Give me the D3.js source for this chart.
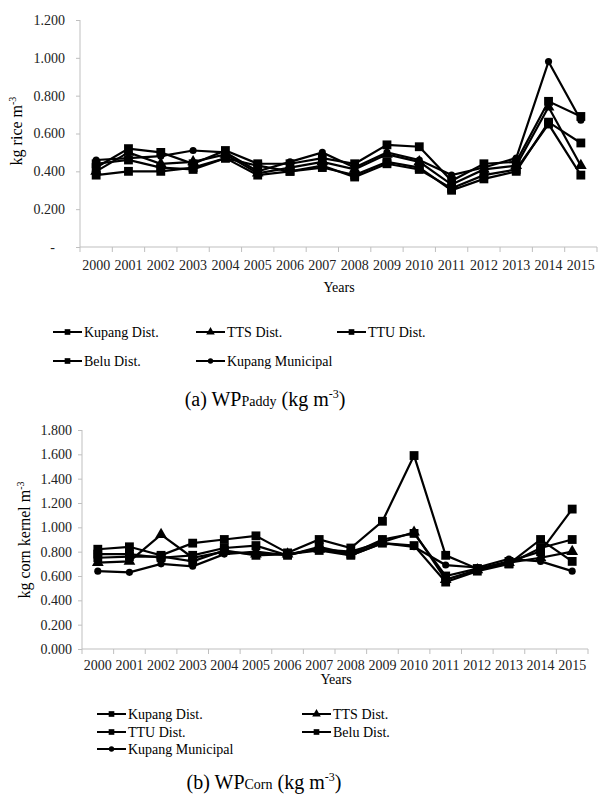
<!DOCTYPE html>
<html>
<head>
<meta charset="utf-8">
<script src="https://cdn.jsdelivr.net/npm/d3@7"></script>
<style>
	body { margin: 0; background: #fff; }
	svg, svg text { font-family: "Liberation Serif", "Times New Roman", Times, "DejaVu Serif", serif; }
	.axis path, .axis line { stroke: #bfbfbf; }
	.axis text { font-size: 14px; fill: #222; }
</style>
</head>
<body>
<div id="chart"></div>
<script>

// categories
let years = ["2000","2001","2002","2003","2004","2005","2006","2007","2008","2009","2010","2011","2012","2013","2014","2015"];
let seriesNames = ["Kupang Dist.", "TTS Dist.", "TTU Dist.", "Belu Dist.", "Kupang Municipal"];
let seriesSymbols = ["square", "triangle", "square", "square", "circle"];

// (a) water productivity paddy, kg rice m-3
let paddyKupangDist = [0.42, 0.52, 0.50, 0.44, 0.51, 0.44, 0.44, 0.47, 0.44, 0.54, 0.53, 0.35, 0.44, 0.45, 0.77, 0.69];
let paddyTTS        = [0.40, 0.50, 0.44, 0.45, 0.49, 0.39, 0.42, 0.45, 0.41, 0.49, 0.45, 0.33, 0.41, 0.43, 0.74, 0.43];
let paddyTTU        = [0.38, 0.40, 0.40, 0.42, 0.47, 0.38, 0.40, 0.42, 0.38, 0.45, 0.42, 0.30, 0.36, 0.40, 0.66, 0.55];
let paddyBelu       = [0.44, 0.46, 0.42, 0.41, 0.47, 0.43, 0.40, 0.43, 0.37, 0.44, 0.41, 0.31, 0.38, 0.41, 0.65, 0.38];
let paddyMunicipal  = [0.46, 0.47, 0.48, 0.51, 0.50, 0.40, 0.45, 0.50, 0.42, 0.50, 0.46, 0.38, 0.42, 0.47, 0.98, 0.67];
let paddyTicks = [0, 0.2, 0.4, 0.6, 0.8, 1.0, 1.2];

// (b) water productivity corn, kg corn kernel m-3
let cornKupangDist = [0.82, 0.84, 0.77, 0.87, 0.90, 0.93, 0.79, 0.90, 0.83, 1.05, 1.59, 0.77, 0.66, 0.72, 0.80, 1.15];
let cornTTS        = [0.71, 0.72, 0.94, 0.75, 0.80, 0.78, 0.78, 0.82, 0.80, 0.88, 0.96, 0.57, 0.65, 0.71, 0.75, 0.80];
let cornTTU        = [0.78, 0.78, 0.75, 0.77, 0.83, 0.85, 0.77, 0.84, 0.78, 0.90, 0.95, 0.60, 0.66, 0.70, 0.90, 0.72];
let cornBelu       = [0.75, 0.76, 0.76, 0.72, 0.81, 0.77, 0.78, 0.81, 0.77, 0.87, 0.85, 0.55, 0.64, 0.70, 0.83, 0.90];
let cornMunicipal  = [0.64, 0.63, 0.70, 0.68, 0.78, 0.80, 0.77, 0.83, 0.77, 0.87, 0.84, 0.69, 0.67, 0.74, 0.72, 0.64];
let cornTicks = [0, 0.2, 0.4, 0.6, 0.8, 1.0, 1.2, 1.4, 1.6, 1.8];

let svg = d3.select("#chart").append("svg")
	.attr("width", 599)
	.attr("height", 796)
	.attr("font-family", "Liberation Serif, Times New Roman, serif");

let symbolTypes = {square: d3.symbolSquare, triangle: d3.symbolTriangle, circle: d3.symbolCircle};
let symbolSizes = {square: 78, triangle: 60, circle: 40};

function drawChart(cfg) {
	let g = svg.append("g");

	let x = d3.scaleBand().domain(years).range([cfg.left, cfg.right]);
	let y = d3.scaleLinear().domain([0, cfg.max]).range([cfg.bottom, cfg.top]);

	// y axis
	let yAxis = d3.axisLeft(y)
		.tickValues(cfg.ticks)
		.tickSize(4)
		.tickPadding(cfg.yPad)
		.tickFormat(cfg.zeroDash ? (d => d === 0 ? "-" : d3.format(".3f")(d)) : d3.format(".3f"));
	let ya = g.append("g").attr("class", "axis")
		.attr("transform", "translate(" + cfg.left + ",0)")
		.call(yAxis);
	ya.attr("font-family", null).attr("font-size", null);
	ya.select(".domain").attr("d", "M0," + cfg.top + "V" + cfg.bottom);
	if (cfg.zeroDash) {
		ya.selectAll(".tick text").filter(d => d === 0).attr("dx", -10);
	}

	// x axis with ticks between categories
	let xa = g.append("g").attr("class", "axis")
		.attr("transform", "translate(0," + cfg.bottom + ")");
	xa.append("line").attr("x1", cfg.left).attr("x2", cfg.right).attr("stroke", "#bfbfbf");
	xa.selectAll(".xtick").data(years.concat(["end"])).enter().append("line")
		.attr("class", "xtick")
		.attr("x1", (d, i) => cfg.left + i * x.step())
		.attr("x2", (d, i) => cfg.left + i * x.step())
		.attr("y1", 0).attr("y2", 5)
		.attr("stroke", "#bfbfbf");
	xa.selectAll(".xlab").data(years).enter().append("text")
		.attr("class", "xlab")
		.attr("x", d => x(d) + x.bandwidth() / 2)
		.attr("y", cfg.xlabDy)
		.attr("text-anchor", "middle")
		.attr("font-size", "14px")
		.attr("fill", "#222")
		.text(d => d);

	// axis titles
	g.append("text")
		.attr("x", cfg.yearsX).attr("y", cfg.yearsY)
		.attr("text-anchor", "middle")
		.attr("font-size", "14px")
		.text("Years");

	let yt = g.append("text")
		.attr("transform", "translate(" + cfg.ytitleX + "," + cfg.ytitleY + ") rotate(-90)")
		.attr("text-anchor", "middle")
		.attr("font-size", cfg.ytitleSize + "px");
	yt.append("tspan").text(cfg.ytitle);
	yt.append("tspan").attr("font-size", "10px").attr("dy", -6).text("-3");

	// lines and markers
	let line = d3.line()
		.x((d, i) => x(years[i]) + x.bandwidth() / 2)
		.y(d => y(d));

	cfg.series.forEach((vals, k) => {
		g.append("path")
			.attr("d", line(vals))
			.attr("fill", "none")
			.attr("stroke", "#000")
			.attr("stroke-width", 2.2);
	});
	cfg.series.forEach((vals, k) => {
		let s = seriesSymbols[k];
		g.selectAll(".m" + k).data(vals).enter().append("path")
			.attr("class", "m" + k)
			.attr("transform", (d, i) => "translate(" + (x(years[i]) + x.bandwidth() / 2) + "," + y(d) + ")")
			.attr("d", d3.symbol().type(symbolTypes[s]).size(symbolSizes[s]))
			.attr("fill", "#000");
	});

	// legend
	let leg = g.selectAll(".leg").data(seriesNames).enter().append("g")
		.attr("transform", (d, i) => "translate(" + cfg.legendPos[i][0] + "," + cfg.legendPos[i][1] + ")");
	leg.append("line").attr("x1", 0).attr("x2", 29).attr("stroke", "#000").attr("stroke-width", 2);
	leg.append("path")
		.attr("transform", "translate(14.5,0)")
		.attr("d", (d, i) => d3.symbol().type(symbolTypes[seriesSymbols[i]]).size(seriesSymbols[i] === "circle" ? 22 : 32)())
		.attr("fill", "#000");
	leg.append("text")
		.attr("x", 31).attr("dy", "0.35em")
		.attr("font-size", "14px")
		.text(d => d);

	// caption
	let cap = g.append("text")
		.attr("x", cfg.capX).attr("y", cfg.capY)
		.attr("text-anchor", "middle")
		.attr("font-size", "20px");
	cap.append("tspan").text(cfg.capPrefix);
	cap.append("tspan").attr("font-size", "14px").text(cfg.capSub);
	cap.append("tspan").text(" (kg m");
	cap.append("tspan").attr("font-size", "12px").attr("dy", -8).text("-3");
	cap.append("tspan").attr("dy", 8).text(")");
}

drawChart({
	left: 80, right: 597, top: 20, bottom: 247, max: 1.2,
	ticks: paddyTicks, zeroDash: true, xlabDy: 23, yPad: 11,
	series: [paddyKupangDist, paddyTTS, paddyTTU, paddyBelu, paddyMunicipal],
	ytitle: "kg rice m", ytitleSize: 16, ytitleX: 22, ytitleY: 131,
	yearsX: 339, yearsY: 292,
	legendPos: [[53, 332], [196, 332], [337, 332], [53, 361], [196, 361]],
	capPrefix: "(a)  WP", capSub: "Paddy", capX: 265, capY: 406
});

drawChart({
	left: 82, right: 588, top: 430, bottom: 649, max: 1.8,
	ticks: cornTicks, zeroDash: false, xlabDy: 21, yPad: 6,
	series: [cornKupangDist, cornTTS, cornTTU, cornBelu, cornMunicipal],
	ytitle: "kg corn kernel  m", ytitleSize: 16, ytitleX: 30, ytitleY: 540,
	yearsX: 336, yearsY: 684,
	legendPos: [[97, 714], [302, 714], [97, 732], [302, 732], [97, 749]],
	capPrefix: "(b) WP", capSub: "Corn", capX: 264, capY: 789
});

</script>
</body>
</html>
